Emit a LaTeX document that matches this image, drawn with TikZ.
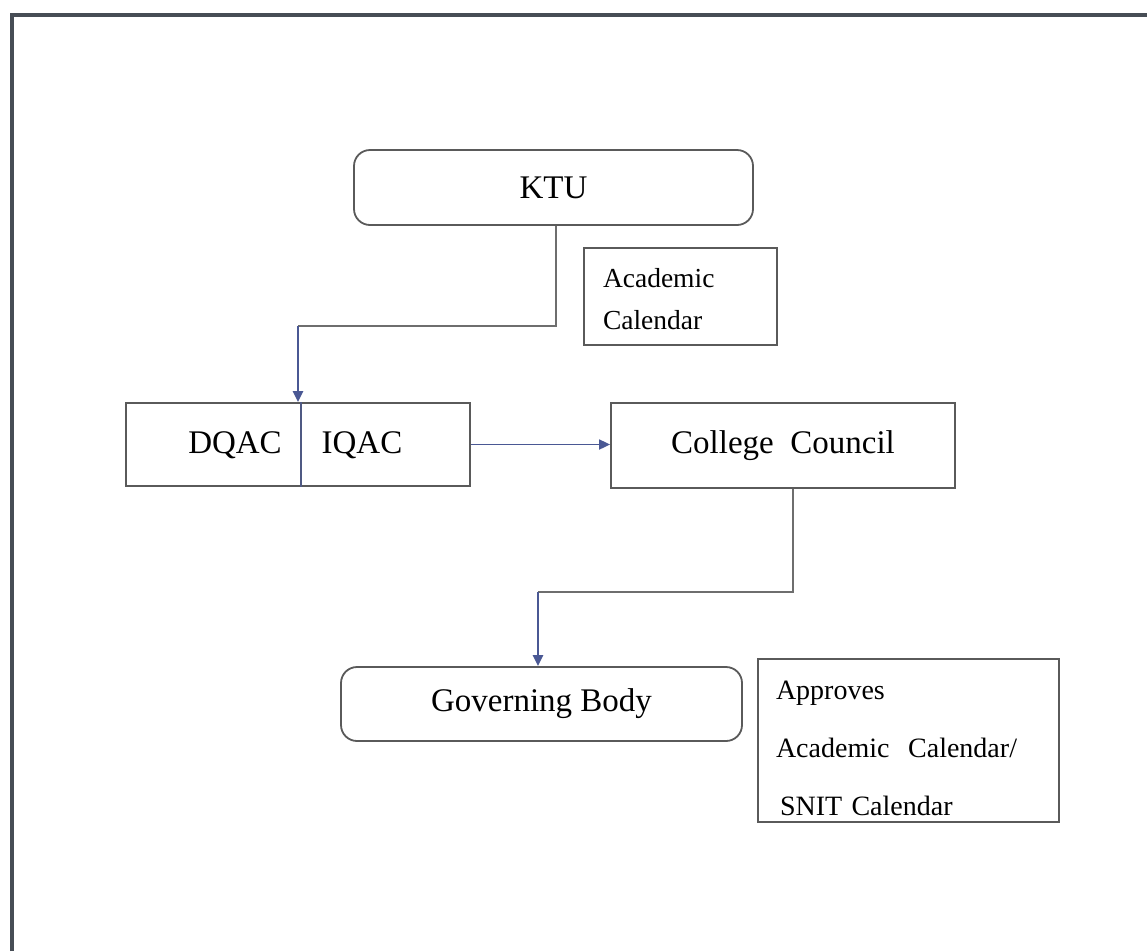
\documentclass[tikz,border=0pt]{standalone}
\usepackage{fontspec}
\setmainfont{Liberation Serif}
\usetikzlibrary{arrows.meta}
\definecolor{bordergray}{HTML}{474D55}
\definecolor{boxgray}{HTML}{5A5A5A}
\definecolor{linegray}{HTML}{6E6E6E}
\definecolor{arrowblue}{HTML}{4A5894}
\begin{document}
\begin{tikzpicture}[x=1pt,y=-1pt,
  bigtext/.style={font=\fontsize{33}{38}\selectfont},
  smalltext/.style={font=\fontsize{27.5}{42}\selectfont},
  sqbox/.style={draw=boxgray, line width=1.8pt, inner sep=0pt, bigtext},
  rbox/.style={sqbox, rounded corners=16pt},
  notebox/.style={draw=boxgray, line width=1.8pt, smalltext, align=left, inner ysep=0pt},
  conn/.style={draw=linegray, line width=1.8pt},
  arr/.style={draw=arrowblue, line width=2.2pt, -{Triangle[width=10pt,length=11pt]}},
  lbl/.style={inner sep=0pt, bigtext}
]
\useasboundingbox (0,0) rectangle (1147,951);
\fill[white] (0,0) rectangle (1147,951);
% outer frame (top and left only)
\draw[bordergray, line width=4.5pt] (12,951) -- (12,15) -- (1147,15);

% nodes
\node[rbox, minimum width=399pt, minimum height=75pt] (ktu) at (553.5,187.5) {KTU};
\node[notebox, minimum width=193pt, minimum height=97pt] (acal) at (680.5,296.5) {};
\node[smalltext, inner sep=0pt, align=left, text width=155pt] (acaltxt) at (680.5,299.5) {Academic\\Calendar};
\node[sqbox, minimum width=344pt, minimum height=83pt] (dq) at (298,444.5) {};
\node[lbl] (dqac) at (235,445) {DQAC};
\node[lbl] (iqac) at (362,445) {IQAC};
\node[sqbox, minimum width=344pt, minimum height=85pt] (cc) at (783,445.5) {College\ \ Council};
\node[rbox, minimum width=401pt, minimum height=74pt] (gb) at (541.5,704) {Governing Body};
\node[notebox, minimum width=301pt, minimum height=163pt] (appr) at (908.5,740.5) {};
\node[inner sep=0pt, align=left, text width=265pt, font=\fontsize{28}{58}\selectfont] (apprtxt) at (908.5,748.5)
      {Approves\\Academic\ \ Calendar/\\\hspace*{4pt}SNIT Calendar};

% divider in DQAC | IQAC box
\draw[draw=arrowblue!70!boxgray, line width=1.8pt] ([xshift=3pt]dq.north) -- ([xshift=3pt]dq.south);

% connectors
\coordinate (k1) at (556,326);
\coordinate (k2) at (298,326);
\draw[conn] (ktu.south -| k1) -- (k1) -- (k2);
\draw[arr] (k2) -- (dq.north);

\draw[arr, line width=1.8pt] (dq.east) -- (dq.east -| cc.west);

\coordinate (c1) at (793,592);
\coordinate (c2) at (538,592);
\draw[conn] (cc.south -| c1) -- (c1) -- (c2);
\draw[arr] (c2) -- (gb.north -| c2);
\end{tikzpicture}
\end{document}
